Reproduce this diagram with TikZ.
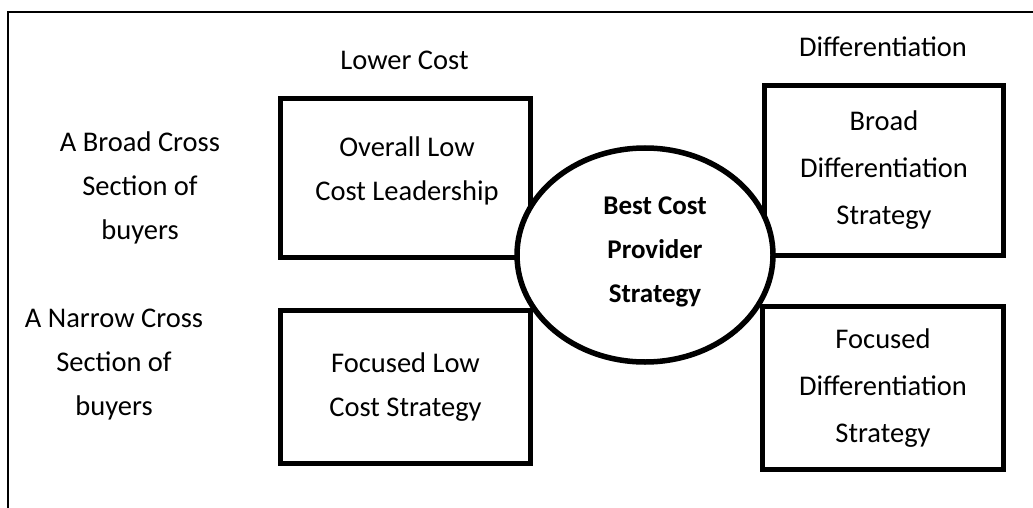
\documentclass[tikz,border=0pt]{standalone}
\usepackage{fontspec}
\setmainfont{Carlito}
\usetikzlibrary{shapes.geometric}
\begin{document}
\begin{tikzpicture}[x=1pt,y=-1pt,
  txt/.style={align=center,inner sep=0pt,font=\fontsize{28.5}{44}\selectfont},
  box/.style={draw,line width=5.5pt,fill=white,align=center,inner sep=0pt,font=\fontsize{28.5}{44}\selectfont},
  ell/.style={draw,ellipse,line width=5.5pt,fill=white,inner sep=0pt},
  frameline/.style={line width=2pt}]
\useasboundingbox (0,0) rectangle (1033,508);
\coordinate (ftl) at (8,12);
\coordinate (ftr) at (1033,12);
\coordinate (fbl) at (8,508);
\draw[frameline] (ftr) -- (ftl) -- (fbl);
\node[box,minimum width=250pt,minimum height=159pt] (b1) at (405.5,178) {};
\node[txt] (b1t) at (407,171) {Overall Low\\Cost Leadership};
\node[box,minimum width=250pt,minimum height=153pt] (b2) at (405.5,387) {Focused Low\\Cost Strategy};
\node[box,minimum width=239pt,minimum height=170pt,font=\fontsize{28.5}{47}\selectfont] (b3) at (884,170.5) {Broad\\Differentiation\\Strategy};
\node[box,minimum width=241pt,minimum height=163pt,font=\fontsize{28.5}{47}\selectfont] (b4) at (883,388) {Focused\\Differentiation\\Strategy};
\node[ell,minimum width=256pt,minimum height=214pt] (e) at (645,255) {};
\node[txt,font=\bfseries\fontsize{27}{44}\selectfont] (et) at (655,252) {Best Cost\\Provider\\Strategy};
\node[txt] (lc) at (404.5,60) {Lower Cost};
\node[txt] (df) at (883,47) {Differentiation};
\node[txt] (r1) at (140,188) {A Broad Cross\\Section of\\buyers};
\node[txt] (r2) at (114,365) {A Narrow Cross\\Section of\\buyers};
\end{tikzpicture}
\end{document}
